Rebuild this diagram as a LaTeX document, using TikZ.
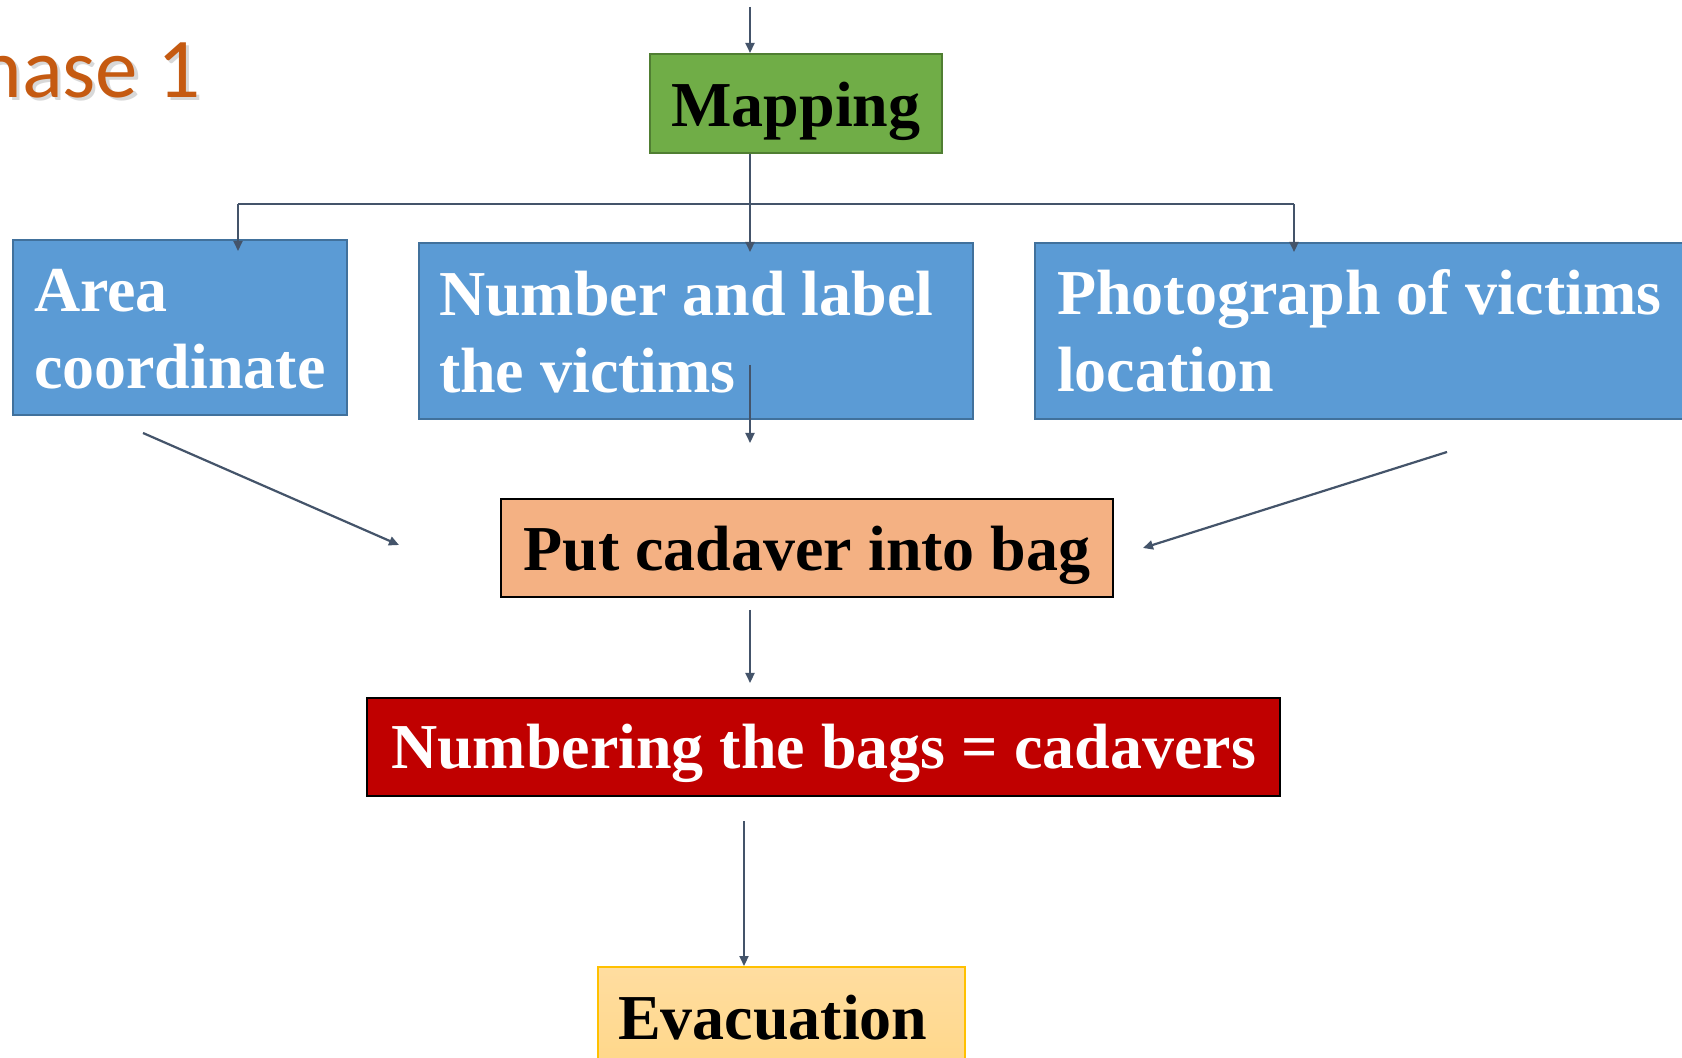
\documentclass[tikz,border=0pt]{standalone}
\usepackage{fontspec}
\setmainfont{Liberation Serif}
\newfontfamily\calibfont{Carlito}
\usetikzlibrary{arrows.meta}
\hyphenpenalty=10000
\exhyphenpenalty=10000
\definecolor{lineC}{HTML}{44546A}
\definecolor{greenF}{HTML}{70AD47}
\definecolor{greenD}{HTML}{507E32}
\definecolor{blueF}{HTML}{5B9BD5}
\definecolor{blueD}{HTML}{41719C}
\definecolor{putF}{HTML}{F4B183}
\definecolor{numF}{HTML}{C00000}
\definecolor{evT}{HTML}{FFDDA0}
\definecolor{evB}{HTML}{FFD580}
\definecolor{evD}{HTML}{FFC000}
\definecolor{phaseC}{HTML}{C55A11}
\begin{document}
\begin{tikzpicture}[x=0.5pt,y=-0.5pt,
  box/.style={draw, line width=1pt, inner sep=0pt, anchor=north west, align=flush left,
    font=\bfseries\fontsize{32}{38.5}\selectfont},
  bluebox/.style={fill=blueF, draw=blueD, text=white},
  ln/.style={draw=lineC, line width=1.1pt},
  arr/.style={ln, -{Triangle[length=5pt,width=4.5pt]}},
  phase/.style={anchor=base east, inner sep=0pt, font=\calibfont\fontsize{42.5}{50}\selectfont}]
\path[use as bounding box] (0,0) rectangle (1682,1058);
\clip (0,0) rectangle (1682,1058);
\fill[white] (0,0) rectangle (1682,1058);
% title
\node[phase, text=black!30, opacity=.5] (phsh) at (204,101) {Phase 1};
\node[phase, text=phaseC] (phase) at (201,98) {Phase 1};
% boxes
\node[box, fill=greenF, draw=greenD, minimum width=146pt, text height=36.5pt, text depth=13pt] (map) at (649,53) {Mapping};
\node[box, bluebox, text width=146pt, inner xsep=10.5pt, text height=36pt, text depth=51.5pt] (area) at (12,239) {Area\\coordinate};
\node[box, bluebox, text width=257pt, inner xsep=10pt, text height=36.5pt, text depth=51.5pt] (mid) at (418,242) {Number and label\\the victims};
\node[box, bluebox, text width=321pt, inner xsep=11pt, text height=36pt, text depth=52pt] (photo) at (1034,242) {Photograph of victims\\location};
\node[box, fill=putF, draw=black, minimum width=306pt, text height=36pt, text depth=13pt] (put) at (500,498) {Put cadaver into bag};
\node[box, fill=numF, draw=black, text=white, minimum width=456.5pt, text height=35.5pt, text depth=13.5pt] (num) at (366,697) {Numbering the bags = cadavers};
\node[box, top color=evT, bottom color=evB, draw=evD, text width=163.5pt, inner xsep=10pt, text height=36pt, text depth=36pt] (evac) at (597,966) {Evacuation};
% connectors
\coordinate (tp) at (750,7);
\coordinate (jm) at (750,204);
\coordinate (jl) at (238,204);
\coordinate (jr) at (1294,204);
\draw[arr] (tp) -- (tp |- map.north);
\draw[ln] (jl) -- (jr);
\draw[arr, shorten >=-5pt] (tp |- map.south) -- (tp |- mid.north);
\draw[arr, shorten >=-6pt] (jl) -- (jl |- area.north);
\draw[arr, shorten >=-5pt] (jr) -- (jr |- photo.north);
\coordinate (m1) at (750,365);
\coordinate (m2) at (750,443);
\draw[arr] (m1) -- (m2);
\coordinate (d1) at (143,433);
\coordinate (d2) at (399,545);
\draw[arr] (d1) -- (d2);
\coordinate (d3) at (1447,452);
\coordinate (d4) at (1143,548);
\draw[arr] (d3) -- (d4);
\draw[arr, shorten <=6pt, shorten >=7pt] (put.south -| tp) -- (num.north -| tp);
\coordinate (ex) at (744,821);
\draw[arr] (ex) -- (ex |- evac.north);
\end{tikzpicture}
\end{document}
